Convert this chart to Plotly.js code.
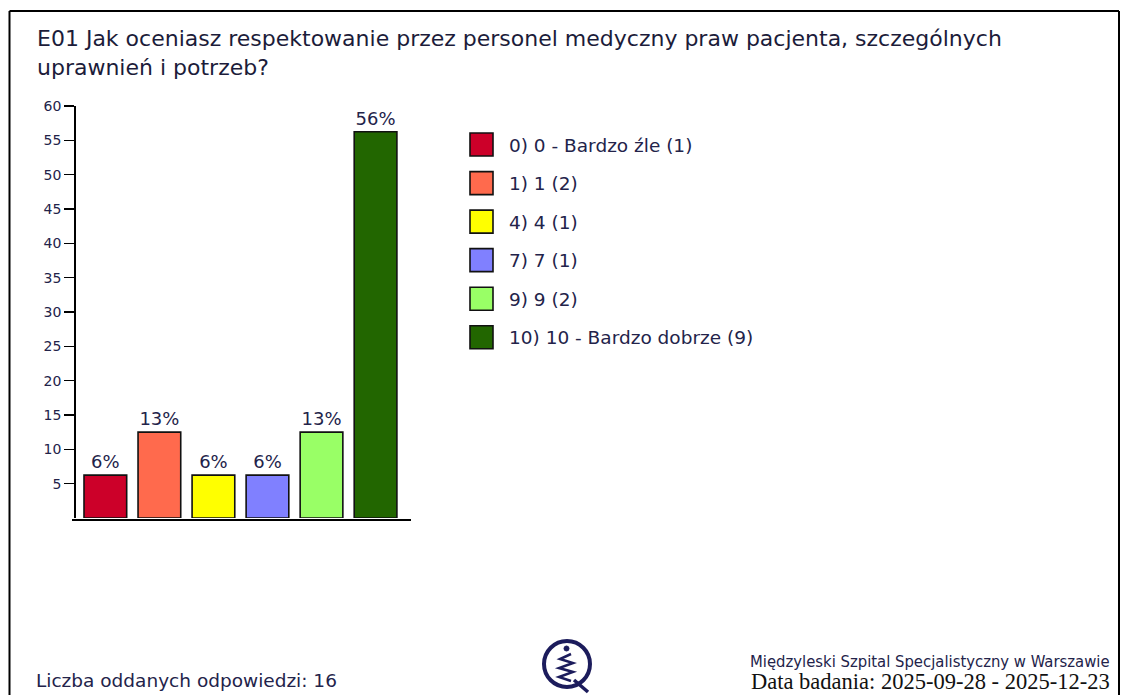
<!DOCTYPE html>
<html>
<head>
<meta charset="utf-8">
<script src="https://cdn.plot.ly/plotly-3.0.1.min.js"></script>
<style>html,body{margin:0;padding:0;background:#fff;}#chart{width:1122px;height:695px;}</style>
</head>
<body>
<div id="chart"></div>
<script>
// ---- data ----
const categories = ["0) 0 - Bardzo źle", "1) 1", "4) 4", "7) 7", "9) 9", "10) 10 - Bardzo dobrze"];
const counts = [1, 2, 1, 1, 2, 9];
const percentValues = [6.25, 12.5, 6.25, 6.25, 12.5, 56.25];
const barLabels = ["6%", "13%", "6%", "6%", "13%", "56%"];
const barColors = ["#cc0029", "#ff6a4d", "#ffff00", "#8080ff", "#99ff66", "#226600"];
const yTickVals = [5, 10, 15, 20, 25, 30, 35, 40, 45, 50, 55, 60];
const yTickText = ["5", "10", "15", "20", "25", "30", "35", "40", "45", "50", "55", "60"];
const titleText = "E01 Jak oceniasz respektowanie przez personel medyczny praw pacjenta, szczególnych<br>uprawnień i potrzeb?";
const totalText = "Liczba oddanych odpowiedzi: 16";
const hospitalText = "Międzyleski Szpital Specjalistyczny w Warszawie";
const dateText = "Data badania: 2025-09-28 - 2025-12-23";

// ---- layout helpers ----
const W = 1122, H = 695, L = 76, R = 711, T = 106, B = 177;
const plotW = W - L - R, plotH = H - T - B;
const px = x => (x - L) / plotW;
const py = y => (H - B - y) / plotH;
const FONT = "DejaVu Sans, Verdana, sans-serif";
const TXT = "#23234a";

const traces = categories.map((c, i) => ({
  type: "bar",
  x: [c],
  y: [percentValues[i]],
  name: c + " (" + counts[i] + ")",
  legendgroup: "g" + i,
  text: [barLabels[i]],
  textposition: "outside",
  textfont: {family: FONT, size: 18, color: TXT},
  cliponaxis: false,
  marker: {color: barColors[i], line: {color: "#111", width: 1.6}},
  hoverinfo: "skip"
}));

const line = (x0, y0, x1, y1, w, col) => ({type: "line", xref: "paper", yref: "paper",
  x0: px(x0), y0: py(y0), x1: px(x1), y1: py(y1), line: {color: col || "#000", width: w}});

const logoCol = "#1c1c5c";
const shapes = [
  line(9.5, 11, 1119, 11, 2.2),
  line(9.5, 11, 9.5, 695, 2),
  line(1119, 11, 1119, 695, 2),
  line(72, 520, 411, 520, 1.8),
  // logo
  {type: "circle", xref: "paper", yref: "paper", x0: px(544), x1: px(590), y0: py(641), y1: py(687),
   line: {color: logoCol, width: 4}},
  {type: "path", xref: "paper", yref: "paper", line: {color: logoCol, width: 3.5},
   path: "M" + px(574) + "," + py(680) + " L" + px(588) + "," + py(692)},
  {type: "circle", xref: "paper", yref: "paper", fillcolor: logoCol, line: {color: logoCol, width: 1},
   x0: px(564), x1: px(569), y0: py(646), y1: py(651)},
  {type: "path", xref: "paper", yref: "paper", line: {color: logoCol, width: 2.5},
   path: "M" + px(571) + "," + py(654) + " L" + px(560) + "," + py(659) + " L" + px(573) + "," + py(663) +
         " L" + px(559) + "," + py(668) + " L" + px(573) + "," + py(672) + " L" + px(559) + "," + py(677) +
         " L" + px(571) + "," + py(681)}
];

const annotations = [
  {xref: "paper", yref: "paper", x: px(34), y: py(680), xanchor: "left", yanchor: "middle", showarrow: false,
   text: totalText, font: {family: FONT, size: 18.5, color: TXT}},
  {xref: "paper", yref: "paper", x: px(1112), y: py(661), xanchor: "right", yanchor: "middle", showarrow: false,
   text: hospitalText, font: {family: "DejaVu Sans Condensed, sans-serif", size: 16.5, color: TXT}},
  {xref: "paper", yref: "paper", x: px(1112), y: py(681), xanchor: "right", yanchor: "middle", showarrow: false,
   text: dateText, font: {family: "Liberation Serif, serif", size: 22.5, color: "#111"}}
];

const layout = {
  width: W, height: H,
  margin: {l: L, r: R, t: T, b: B, pad: 0},
  paper_bgcolor: "#fff", plot_bgcolor: "#fff",
  barmode: "relative", bargap: 0.21,
  title: {text: titleText, xref: "container", yref: "container", x: 37 / W, xanchor: "left",
          y: 1 - 46 / H, yanchor: "top", font: {family: FONT, size: 22, color: "#1c1c3a"}},
  xaxis: {type: "category", range: [-0.543, 5.656], showticklabels: false, ticks: "",
          showline: false, showgrid: false, zeroline: false, fixedrange: true},
  yaxis: {range: [0, 60], tickmode: "array", tickvals: yTickVals, ticktext: yTickText,
          ticks: "outside", ticklen: 10, tickwidth: 1.5, tickcolor: "#000",
          showline: true, linecolor: "#000", linewidth: 1.8, showgrid: false, zeroline: false,
          tickfont: {family: FONT, size: 14, color: TXT}, fixedrange: true},
  showlegend: true,
  legend: {x: px(469), y: py(126), xanchor: "left", yanchor: "top", traceorder: "grouped",
           tracegroupgap: 11.5, font: {family: FONT, size: 18.5, color: TXT}, bgcolor: "rgba(0,0,0,0)"},
  shapes: shapes,
  annotations: annotations
};

Plotly.newPlot("chart", traces, layout, {displayModeBar: false, staticPlot: true}).then(gd => {
  // enlarge legend swatches to match the reference squares (text stays at its default offset)
  gd.querySelectorAll(".legend .legendpoints path").forEach(p => p.setAttribute("d", "M4,11.5H-19V-11.5H4Z"));
});
</script>
</body>
</html>
